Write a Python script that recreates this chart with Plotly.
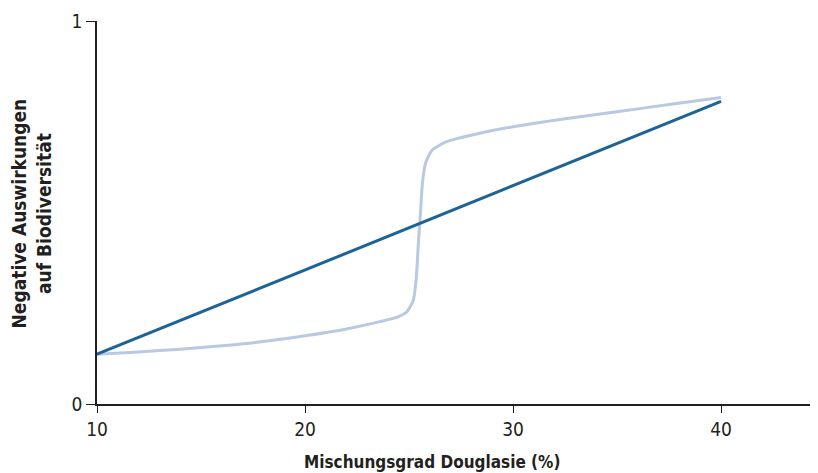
import plotly.graph_objects as go

# Linear relationship (dark line)
lin_x = [10, 40]
lin_y = [0.13, 0.79]

# Threshold relationship (light curve)
thr_x = [10, 12, 14, 16, 18, 20, 22, 23.6, 24.5, 24.9, 25.2, 25.35, 25.45,
         25.55, 25.65, 25.8, 26.1, 26.8, 28.4, 30, 32.5, 35, 37.5, 40]
thr_y = [0.13, 0.136, 0.143, 0.152, 0.163, 0.178, 0.196, 0.215, 0.228, 0.241,
         0.27, 0.33, 0.42, 0.5, 0.58, 0.63, 0.662, 0.685, 0.707, 0.724,
         0.745, 0.763, 0.782, 0.80]

x_ticks = [10, 20, 30, 40]
y_ticks = [0, 1]

FONT = "DejaVu Sans Condensed, Roboto, sans-serif"

fig = go.Figure()
fig.add_trace(go.Scatter(x=thr_x, y=thr_y, mode="lines",
                         line=dict(color="#b9c9e1", width=3, shape="spline", smoothing=0.6),
                         showlegend=False, hoverinfo="skip"))
fig.add_trace(go.Scatter(x=lin_x, y=lin_y, mode="lines",
                         line=dict(color="#1e6396", width=3),
                         showlegend=False, hoverinfo="skip"))

fig.update_layout(
    width=810, height=465,
    margin=dict(l=89, r=0, t=13, b=69),
    paper_bgcolor="white", plot_bgcolor="white",
    font=dict(family=FONT, size=18, color="#231f20"),
    xaxis=dict(range=[10, 44.66], tickvals=x_ticks, ticks="outside", ticklen=7,
               tickcolor="#231f20", showline=True, linecolor="#231f20", linewidth=1.5,
               showgrid=False, zeroline=False, tickfont=dict(size=19)),
    yaxis=dict(range=[0, 1], tickvals=y_ticks, ticks="outside", ticklen=9,
               tickcolor="#231f20", showline=True, linecolor="#231f20", linewidth=1.5,
               showgrid=False, zeroline=False, tickfont=dict(size=19)),
    annotations=[
        dict(text="<b>Mischungsgrad Douglasie (%)</b>", xref="paper", yref="paper",
             x=0.4646, y=-0.152, xanchor="center", yanchor="middle",
             showarrow=False, font=dict(size=17)),
        dict(text="<b>Negative Auswirkungen<br>auf Biodiversität</b>", xref="paper", yref="paper",
             x=-0.0895, y=0.4987, xanchor="center", yanchor="middle", textangle=-90,
             showarrow=False, font=dict(size=19)),
    ],
)

fig.write_html("out.html")
